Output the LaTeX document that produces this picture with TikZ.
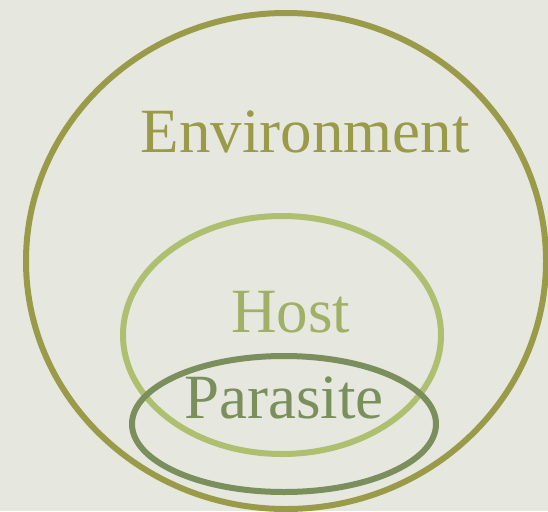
\documentclass[tikz,border=0pt]{standalone}
\usepackage{fontspec}
\setmainfont{Liberation Serif}

\definecolor{paper}{HTML}{E6E7DF}
\definecolor{envcol}{HTML}{9A9B48}
\definecolor{hostcol}{HTML}{AFBF70}
\definecolor{paracol}{HTML}{7B8F5C}

\tikzset{
  ring/.style={line width=6pt},
  label/.style={anchor=base,inner sep=0pt,font=\fontsize{63}{70}\selectfont}
}

\begin{document}
\begin{tikzpicture}[x=1pt,y=-1pt]
  \fill [paper] (0,0) rectangle (548,511);
  \useasboundingbox (0,0) rectangle (548,511);

  % the three sets
  \draw [ring,envcol] (286,261) ellipse [x radius=260, y radius=248];
  \draw [ring,hostcol] (282,335) ellipse [x radius=159, y radius=119];
  \draw [ring,paracol] (284,424) ellipse [x radius=152, y radius=68];

  \node [label,text=envcol] (env) at (305,152) {Environment};
  \node [label,text=hostcol!92!black] (host) at (291,332) {Host};
  \node [label,text=paracol] (para) at (284,418) {Parasite};
\end{tikzpicture}
\end{document}
